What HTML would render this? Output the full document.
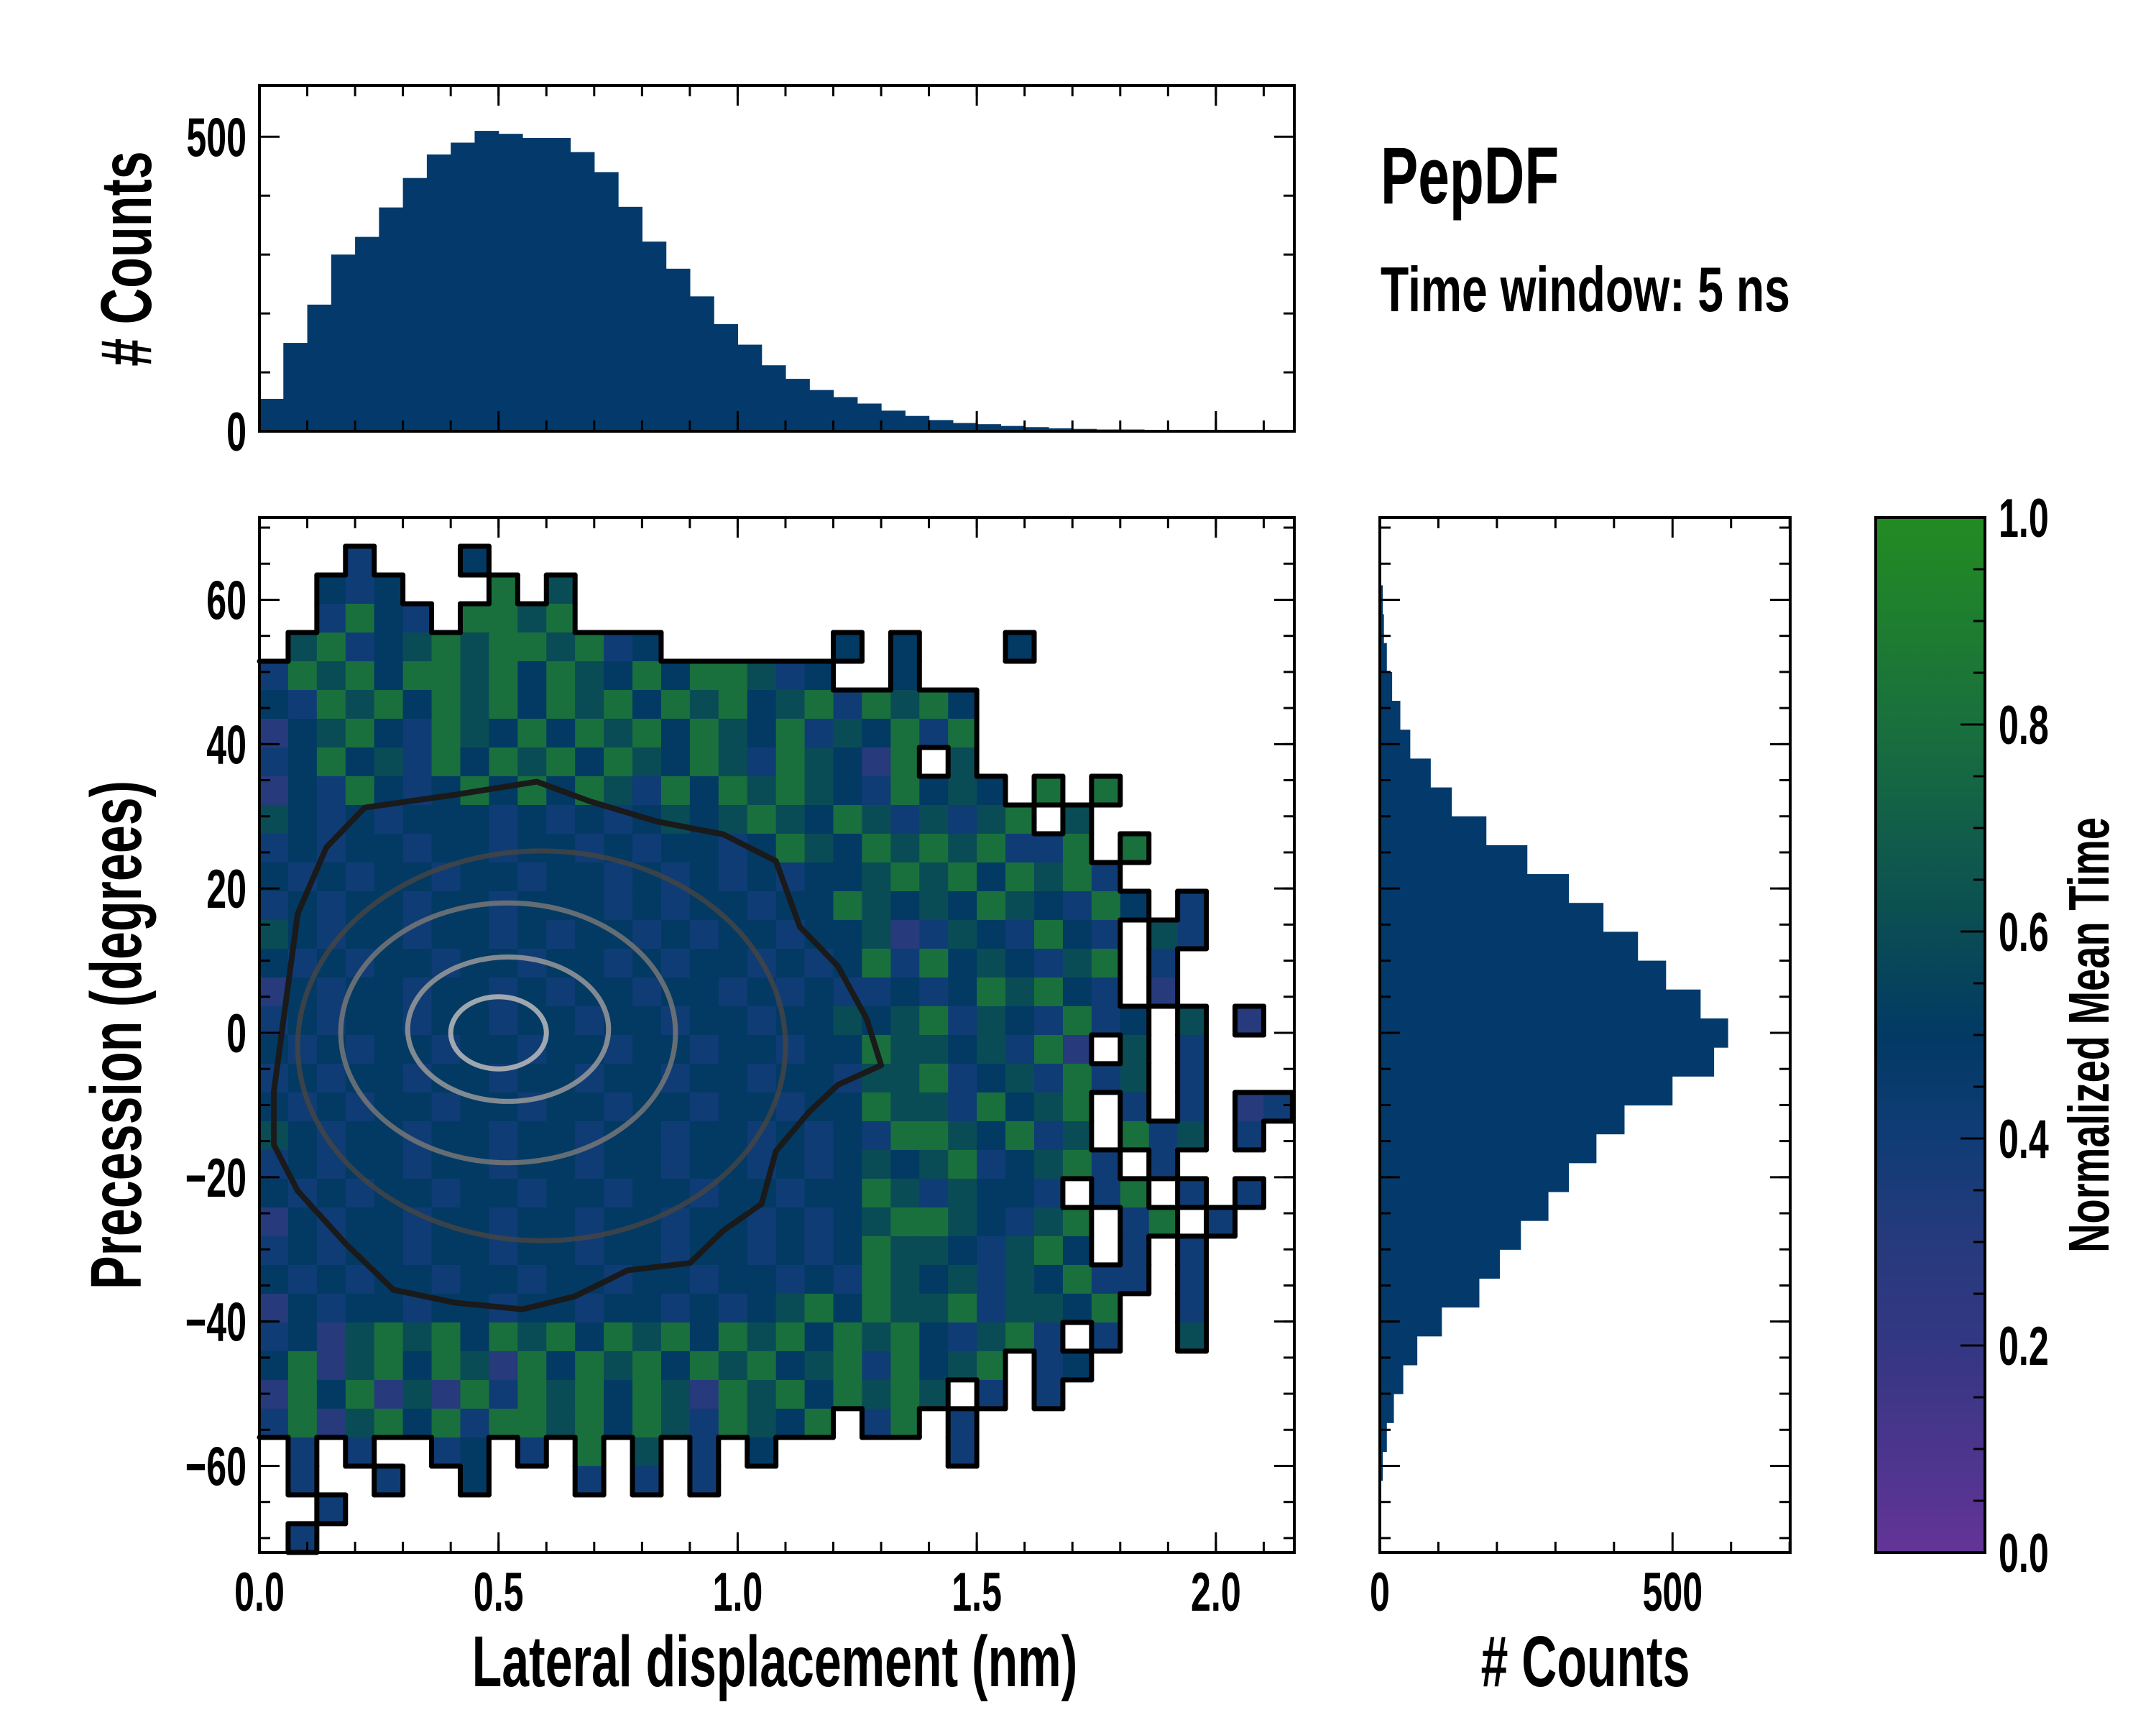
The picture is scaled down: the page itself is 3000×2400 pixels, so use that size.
<!DOCTYPE html>
<html><head><meta charset="utf-8">
<style>
html,body{margin:0;padding:0;background:#fff;}
svg{display:block;}
text{font-family:"Liberation Sans",sans-serif;font-weight:bold;fill:#000;}
</style></head>
<body>
<svg id="fig" width="3000" height="2400" viewBox="0 0 3000 2400" xmlns="http://www.w3.org/2000/svg">
<defs>
<linearGradient id="cmap" x1="0" y1="1" x2="0" y2="0">
<stop offset="0" stop-color="#633497"/><stop offset="0.1" stop-color="#4b358d"/><stop offset="0.2" stop-color="#343783"/>
<stop offset="0.3" stop-color="#263a7c"/><stop offset="0.4" stop-color="#103c76"/><stop offset="0.5" stop-color="#023a64"/>
<stop offset="0.6" stop-color="#0a4c55"/><stop offset="0.8" stop-color="#19703d"/><stop offset="1" stop-color="#238b22"/>
</linearGradient>
</defs>
<g id="heat"></g>
<g id="cont"></g>
<g id="tophist"></g>
<g id="righthist"></g>
<rect x="2610" y="720" width="152" height="1440" fill="url(#cmap)" stroke="#000" stroke-width="4"/>
<g id="axes"></g>
<g id="labels"></g>
</svg>
<script>
// ---- data ----
const xBinEdgeStart = 0, xBinWidth = 0.06;
const yBinTop = 71.4, yBinHeight = 3.983;
const heatRows = [
"....................................",
"...4...5............................",
"..545...8.6.........................",
"..4854.8868.........................",
".6845686886845......5.5...5.........",
"48685886858658588645..5.............",
"5486858685868586856848685...........",
"3568548658586858658465848...........",
"45856485868586586486538.6...........",
"35485458585864858686548565.8.8......",
"654545554545456568658646468.6.......",
"45455455455454554586586868448.8.....",
"545455455455454545455686858684......",
"4545545545554545545586565865485.4...",
"654554554545545455455634654854.64...",
"545455455455454554545848565468.4....",
"354554554545545545454454586854.3....",
"4545545545545545545565684654845.6.3.",
"54545545545545545545586656483.6.4...",
"4545545545545545545546684564846.4...",
"54545545545545545545586648568.4.4.34",
"65455455455455455454548865846.846.4.",
"454554554554554554545656845684.4....",
"5454554554554554554558646554.48.4.4.",
"35455455455455455454568865468.48.4..",
"45455455455455455454586654685.4.4...",
"5454554554554554554548656465844.4...",
"354554554554554545685866846658..4...",
"4536868586858685868586854684.4..6...",
"58368586385868586856848568.45.......",
"385836384868586386858686.4.4........",
"48368584886858648658.48.4...........",
".4.4..45.4.8.6.4.5......4...........",
".4..4..5...4.4.4....................",
"..4.................................",
".4.................................."
];
const topBinStart = 0, topBinWidth = 0.05;
const topCounts = [55,150,215,300,330,380,430,470,490,510,505,498,498,474,440,381,322,276,229,182,147,112,89,70,58,47,35,26,19,14,12,9,7,5,4,3,3,2,1,0.5];
const rightBinCenters = [60,56,52,48,44,40,36,32,28,24,20,16,12,8,4,0,-4,-8,-12,-16,-20,-24,-28,-32,-36,-40,-44,-48,-52,-56,-60,-64];
const rightCounts = [5,7,12,21,35,52,87,123,182,252,323,382,441,489,548,595,571,500,418,370,323,288,241,205,170,106,64,40,24,12,5,1];
const outerContourX = [0.03,0.08,0.14,0.22,0.41,0.58,0.69,0.83,0.97,1.08,1.13,1.21,1.27,1.30,1.21,1.15,1.08,1.05,0.97,0.90,0.77,0.66,0.55,0.41,0.28,0.18,0.08,0.03];
const outerContourY = [-8.2,16.5,25.7,31.2,33.0,34.8,32.1,29.3,27.5,23.8,14.7,9.2,1.9,-4.5,-7.2,-10.9,-16.4,-23.7,-27.4,-31.9,-32.9,-36.5,-38.3,-37.4,-35.6,-29.2,-21.9,-15.5];
const innerCx = [0.59,0.52,0.52,0.50];
const innerCy = [-1.8,0,0.5,0];
const innerRx = [0.51,0.35,0.21,0.10];
const innerRy = [27,18,10,5];
const innerColors = ["#444","#777","#999","#bbb"];
const xTickVals = [0,0.5,1,1.5,2];
const xTickLabels = ["0.0","0.5","1.0","1.5","2.0"];
const yTickVals = [60,40,20,0,-20,-40,-60];
const yTickLabels = ["60","40","20","0","\u221220","\u221240","\u221260"];
const cbTickLabels = ["0.0","0.2","0.4","0.6","0.8","1.0"];

// ---- scales ----
const PX0=361, PX1=1801, PY0=720, PY1=2160, XMAX=2.164, YMAX=71.4, YMIN=-72;
const X = v => PX0 + v/XMAX*(PX1-PX0);
const Y = v => PY0 + (YMAX-v)/(YMAX-YMIN)*(PY1-PY0);
const TY0=600, TY1=119, TMAX=587;
const Tc = c => TY0 - c/TMAX*(TY0-TY1);
const RX0=1920, RX1=2491, RMAX=701;
const Rc = c => RX0 + c/RMAX*(RX1-RX0);
const CB = v => 2160 - v*1440;

const NS="http://www.w3.org/2000/svg";
function mk(tag, parent, attrs){const e=document.createElementNS(NS,tag);for(const k in attrs)e.setAttribute(k,attrs[k]);parent.appendChild(e);return e;}
const stops=[[0,[0x63,0x34,0x97]],[0.1,[0x4b,0x35,0x8d]],[0.2,[0x34,0x37,0x83]],[0.3,[0x26,0x3a,0x7c]],[0.4,[0x10,0x3c,0x76]],[0.5,[0x02,0x3a,0x64]],[0.6,[0x0a,0x4c,0x55]],[0.8,[0x19,0x70,0x3d]],[1,[0x23,0x8b,0x22]]];
function cmap(v){for(let i=1;i<stops.length;i++){if(v<=stops[i][0]){const a=stops[i-1],b=stops[i],t=(v-a[0])/(b[0]-a[0]);return 'rgb('+a[1].map((c,j)=>Math.round(c+(b[1][j]-c)*t)).join(',')+')';}}return 'rgb(35,139,34)';}

// ---- heatmap ----
const heat=document.getElementById('heat');
const grid=heatRows.map(r=>r.padEnd(36,'.'));
function val(r,c){if(r<0||r>=grid.length||c<0||c>=36)return null;const ch=grid[r][c];if(ch==='.')return null;return ch==='a'?1:parseInt(ch)/10;}
for(let r=0;r<grid.length;r++){for(let c=0;c<36;c++){const v=val(r,c);if(v===null)continue;
 const x0=X(xBinEdgeStart+c*xBinWidth),x1=X(xBinEdgeStart+(c+1)*xBinWidth),y0=Y(yBinTop-r*yBinHeight),y1=Y(yBinTop-(r+1)*yBinHeight);
 const cell=mk('rect',heat,{x:x0,y:y0,width:Math.min(x1,PX1)-x0+0.5,height:Math.min(y1,PY1)-y0+0.5,fill:cmap(v)});
 
 
}}
for(let r=0;r<grid.length;r++){for(let c=0;c<36;c++){if(val(r,c)===null)continue;
 const x0=X(c*xBinWidth),x1=X((c+1)*xBinWidth),y0=Y(yBinTop-r*yBinHeight),y1=Y(yBinTop-(r+1)*yBinHeight);
 const segs=[];
 if(val(r-1,c)===null&&r>0)segs.push([x0,y0,x1,y0]);
 if(val(r+1,c)===null)segs.push([x0,y1,x1,y1]);
 if(val(r,c-1)===null&&c>0)segs.push([x0,y0,x0,y1]);
 if(val(r,c+1)===null)segs.push([x1,y0,x1,y1]);
 for(const s of segs){const l=mk('line',heat,{x1:s[0],y1:s[1],x2:s[2],y2:s[3],stroke:'#000','stroke-width':7,'stroke-linecap':'round'});
  
  }
}}
// ---- contours ----
const cont=document.getElementById('cont');
for(let i=0;i<innerCx.length;i++){const e=mk('ellipse',cont,{cx:X(innerCx[i]),cy:Y(innerCy[i]),rx:X(innerRx[i])-X(0),ry:Y(0)-Y(innerRy[i]),fill:'none',stroke:innerColors[i],'stroke-width':7,opacity:0.85});
 
 }
const op=mk('polygon',cont,{points:outerContourX.map((x,i)=>X(x)+','+Y(outerContourY[i])).join(' '),fill:'none',stroke:'#1a1a1a','stroke-width':8,'stroke-linejoin':'round'});



// ---- top histogram ----
const th=document.getElementById('tophist');
topCounts.forEach((c,i)=>{const x0=X(topBinStart+i*topBinWidth),x1=X(topBinStart+(i+1)*topBinWidth);
 const b=mk('rect',th,{x:x0,y:Tc(c),width:x1-x0+0.6,height:TY0-Tc(c),fill:'#033a6b'});
 
 });
// ---- right histogram ----
const rh=document.getElementById('righthist');
rightBinCenters.forEach((yc,i)=>{const c=rightCounts[i];
 const b=mk('rect',rh,{x:RX0,y:Y(yc+2),width:Rc(c)-RX0,height:Y(yc-2)-Y(yc+2)+0.6,fill:'#033a6b'});
 
 });

// ---- axes ----
const ax=document.getElementById('axes');
function line(x1,y1,x2,y2,w,name){const l=mk('line',ax,{x1,y1,x2,y2,stroke:'#000','stroke-width':w});
 
 }
function frame(x0,y0,x1,y1,name){const r=mk('rect',ax,{x:x0,y:y0,width:x1-x0,height:y1-y0,fill:'none',stroke:'#000','stroke-width':4});
 
 }
const MJ=28, MN=15;
function xticks(fx,y0,y1,major,minor){major.forEach(v=>{line(fx(v),y1,fx(v),y1-MJ,3,'x-major-tick');line(fx(v),y0,fx(v),y0+MJ,3,'x-major-tick');});
 minor.forEach(v=>{line(fx(v),y1,fx(v),y1-MN,3,'x-minor-tick');line(fx(v),y0,fx(v),y0+MN,3,'x-minor-tick');});}
function yticks(fy,x0,x1,major,minor){major.forEach(v=>{line(x0,fy(v),x0+MJ,fy(v),3,'y-major-tick');line(x1,fy(v),x1-MJ,fy(v),3,'y-major-tick');});
 minor.forEach(v=>{line(x0,fy(v),x0+MN,fy(v),3,'y-minor-tick');line(x1,fy(v),x1-MN,fy(v),3,'y-minor-tick');});}
const xMin=[];for(let v=0.1;v<2.16;v+=0.1)xMin.push(v);
const yMin=[];for(let v=-70;v<=70;v+=5)yMin.push(v);
xticks(X,PY0,PY1,xTickVals,xMin); yticks(Y,PX0,PX1,yTickVals,yMin);
xticks(X,TY1,TY0,xTickVals,xMin); yticks(Tc,PX0,PX1,[0,500],[100,200,300,400]);
yticks(Y,RX0,RX1,yTickVals,yMin); xticks(Rc,PY0,PY1,[0,500],[100,200,300,400,600,700]);
[0,0.2,0.4,0.6,0.8,1].forEach(v=>line(2762,CB(v),2728,CB(v),3,'colorbar-major-tick'));
for(let v=0.05;v<1;v+=0.05)line(2762,CB(v),2746,CB(v),3,'colorbar-minor-tick');
frame(PX0,PY0,PX1,PY1,'main-axes-frame');frame(PX0,TY1,PX1,TY0,'top-hist-frame');frame(RX0,PY0,RX1,PY1,'right-hist-frame');

// ---- text ----
const lab=document.getElementById('labels');
function txt(s,x,y,size,anchor,sx,name,rot){const t=mk('text',lab,{'font-size':size,'text-anchor':anchor,transform:'translate('+x+','+y+')'+(rot?' rotate(-90)':'')+' scale('+sx+',1)'});
 t.textContent=s;
 
 }
xTickLabels.forEach((s,i)=>txt(s,X(xTickVals[i]),2241,76,'middle',0.66,'x-tick-label'));
yTickLabels.forEach((s,i)=>txt(s,343,Y(yTickVals[i])+27,76,'end',0.66,'y-tick-label'));
txt('500',343,Tc(500)+27,76,'end',0.66,'top-hist-y-tick-label');
txt('0',343,Tc(0)+27,76,'end',0.66,'top-hist-y-tick-label');
txt('0',Rc(0),2241,76,'middle',0.66,'right-hist-x-tick-label');
txt('500',Rc(500),2241,76,'middle',0.66,'right-hist-x-tick-label');
cbTickLabels.forEach((s,i)=>txt(s,2781,CB(i*0.2)+27,76,'start',0.66,'colorbar-tick-label'));
txt('Lateral displacement (nm)',1078,2346,100,'middle',0.68,'x-axis-title');
txt('# Counts',2206,2346,100,'middle',0.68,'right-hist-x-axis-title');
txt('Precession (degrees)',196,1440,100,'middle',0.7,'y-axis-title',true);
txt('# Counts',210,360,100,'middle',0.7,'top-hist-y-axis-title',true);
txt('Normalized Mean Time',2934,1440,80,'middle',0.7,'colorbar-title',true);
txt('PepDF',1921,283,112,'start',0.7,'plot-title');
txt('Time window: 5 ns',1921,433,88,'start',0.73,'time-window-subtitle');
</script>
</body></html>
